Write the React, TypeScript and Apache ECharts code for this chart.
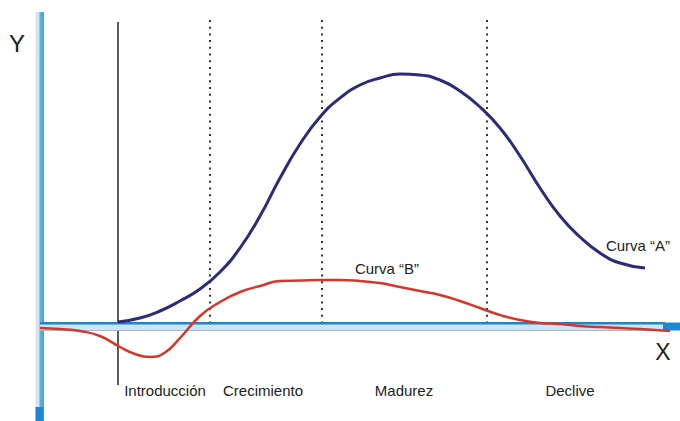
import React, { useEffect, useRef } from "react";
import * as echarts from "echarts";

// Chart units: x = horizontal position, y = height above the X axis
const curveA: [number, number][] = [
  [118, 3], [140, 7], [160, 14], [180, 24], [200, 36], [220, 53],
  [240, 77], [260, 109], [280, 147], [300, 181], [320, 208], [340, 227],
  [360, 240], [380, 247], [400, 251], [420, 250], [440, 245], [460, 234],
  [480, 218], [500, 197], [520, 169], [540, 137], [560, 109], [580, 88],
  [600, 72], [620, 62], [645, 57],
];
const curveB: [number, number][] = [
  [40, -3], [60, -4], [80, -6], [100, -11], [120, -22], [135, -29], [150, -32],
  [165, -27.5], [180, -13], [200, 9], [220, 23], [240, 33], [260, 39], [280, 44],
  [300, 44.5], [320, 45], [340, 45], [360, 44], [380, 42], [400, 38], [420, 34],
  [440, 30], [460, 24], [480, 17], [500, 10], [520, 5], [540, 2], [560, 1],
  [580, -1], [600, -2], [620, -3], [640, -4], [670, -6],
];
const stageBoundaries = [210, 322, 487];
const introLine = 118;
const stageNames = ["Introducción", "Crecimiento", "Madurez", "Declive"];
const stageLabelX = [165, 263, 404, 570];
const curveNames = ["Curva “A”", "Curva “B”"];

const X_MIN = 0, X_MAX = 680, Y_MIN = -96, Y_MAX = 325;

export default function App() {
  const ref = useRef<HTMLDivElement>(null);
  useEffect(() => {
    document.body.style.margin = "0";
    const chart = echarts.init(ref.current!, null, { renderer: "svg" });
    const seg = (pts: [number, number][], color: string, width: number, extra: any = {}) => ({
      type: "line",
      data: pts,
      symbol: "none",
      silent: true,
      lineStyle: { color, width, cap: "butt", ...extra },
    });
    const font = "'Liberation Sans', Arial, sans-serif";
    const series: any[] = [];
    // vertical stage lines
    series.push(seg([[introLine, 303], [introLine, -60]], "#222", 1.5));
    stageBoundaries.forEach((x) =>
      series.push(seg([[x, 305], [x, 2]], "#333", 2, { type: [2, 4.7] }))
    );
    // Y axis bar
    series.push(seg([[39.5, 313], [39.5, Y_MIN]], "#d6e2ec", 8));
    series.push(seg([[41.5, 313], [41.5, Y_MIN]], "#5aaee3", 4));
    series.push(seg([[43.2, 313], [43.2, Y_MIN]], "#3d8fc8", 1));
    series.push(seg([[39.5, -82], [39.5, Y_MIN]], "#1e88d6", 8));
    // X axis bar
    series.push(seg([[40, -1.5], [665, -1.5]], "#cde6f6", 8));
    series.push(seg([[40, 1.8], [665, 1.8]], "#2583c4", 2.5));
    series.push(seg([[40, -5.5], [665, -5.5]], "#a8b8c6", 1));
    series.push(seg([[663, -1.5], [680, -1.5]], "#1b8ad6", 8));
    // curves
    series.push({ ...seg(curveB, "#d8352a", 2.5, { join: "round" }), smooth: 0.5 });
    series.push({ ...seg(curveA, "#2b2a7c", 3, { join: "round" }), smooth: 0.5 });

    const texts: any[] = stageNames.map((n, i) => ({
      type: "text",
      x: stageLabelX[i],
      y: 390,
      style: { text: n, fontSize: 15, fontFamily: font, fill: "#222", align: "center", verticalAlign: "middle" },
    }));
    texts.push({ type: "text", x: 638, y: 245, style: { text: curveNames[0], fontSize: 15, fontFamily: font, fill: "#222", align: "center", verticalAlign: "middle" } });
    texts.push({ type: "text", x: 387, y: 268, style: { text: curveNames[1], fontSize: 15, fontFamily: font, fill: "#222", align: "center", verticalAlign: "middle" } });
    texts.push({ type: "text", x: 17, y: 43, style: { text: "Y", fontSize: 24, fontFamily: font, fill: "#222", align: "center", verticalAlign: "middle" } });
    texts.push({ type: "text", x: 663, y: 352, style: { text: "X", fontSize: 23, fontFamily: font, fill: "#222", align: "center", verticalAlign: "middle" } });

    chart.setOption({
      animation: false,
      backgroundColor: "#ffffff",
      grid: { left: 0, right: 0, top: 0, bottom: 0 },
      xAxis: { type: "value", min: X_MIN, max: X_MAX, show: false },
      yAxis: { type: "value", min: Y_MIN, max: Y_MAX, show: false },
      series,
      graphic: texts,
    });
    return () => chart.dispose();
  }, []);
  return <div ref={ref} style={{ width: 680, height: 421 }} />;
}
